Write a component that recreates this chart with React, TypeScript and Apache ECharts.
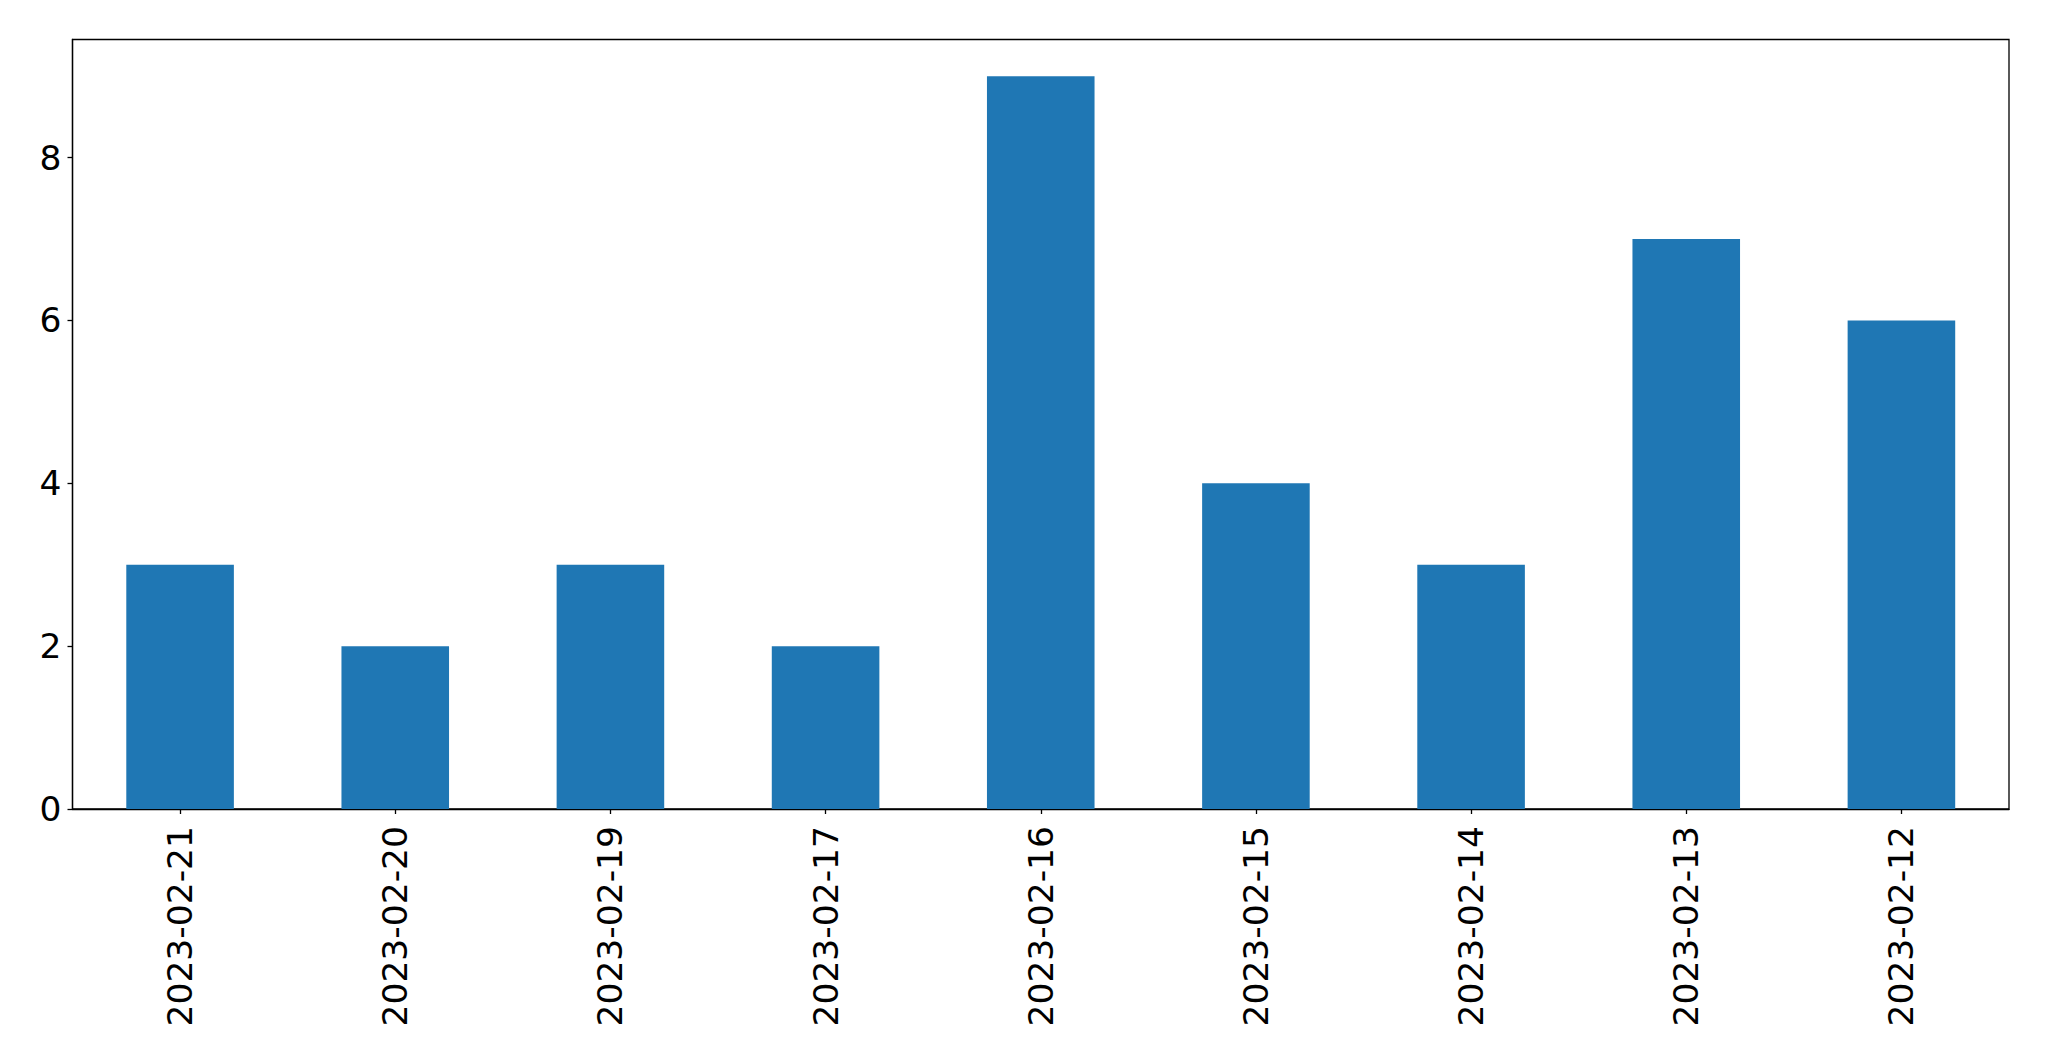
import React, { useEffect, useRef } from "react";
import * as echarts from "echarts";

const categories = [
  "2023-02-21",
  "2023-02-20",
  "2023-02-19",
  "2023-02-17",
  "2023-02-16",
  "2023-02-15",
  "2023-02-14",
  "2023-02-13",
  "2023-02-12",
];
const counts = [3, 2, 3, 2, 9, 4, 3, 7, 6];
const yTicks = [0, 2, 4, 6, 8];

export default function App() {
  const ref = useRef<HTMLDivElement>(null);
  useEffect(() => {
    if (!ref.current) return;
    const chart = echarts.init(ref.current, null, { renderer: "svg" });
    const font = "DejaVu Sans";
    chart.setOption({
      animation: false,
      backgroundColor: "#ffffff",
      grid: {
        left: 72.5,
        top: 39.5,
        right: 40,
        bottom: 252,
        show: true,
        borderColor: "#000000",
        borderWidth: 1.3,
        backgroundColor: "transparent",
      },
      xAxis: {
        type: "category",
        data: categories,
        boundaryGap: true,
        axisLine: { show: true, lineStyle: { color: "#000", width: 1.3 } },
        axisTick: {
          show: true,
          alignWithLabel: true,
          length: 5,
          lineStyle: { color: "#000", width: 1.3 },
        },
        axisLabel: {
          rotate: 90,
          margin: 17,
          fontSize: 34.5,
          fontFamily: font,
          color: "#000",
          interval: 0,
        },
        splitLine: { show: false },
      },
      yAxis: {
        type: "value",
        min: 0,
        max: 9.45,
        interval: 2,
        axisLine: { show: true, lineStyle: { color: "#000", width: 1.3 } },
        axisTick: {
          show: true,
          length: 5,
          customValues: yTicks,
          lineStyle: { color: "#000", width: 1.3 },
        },
        axisLabel: {
          margin: 11,
          fontSize: 34.5,
          fontFamily: font,
          color: "#000",
          customValues: yTicks,
        },
        splitLine: { show: false },
      },
      series: [
        {
          type: "bar",
          data: counts,
          barWidth: "50%",
          itemStyle: { color: "#1f77b4" },
        },
      ],
    });
    return () => chart.dispose();
  }, []);
  return (
    <div
      ref={ref}
      style={{ position: "absolute", left: 0, top: 0, width: 2049, height: 1061 }}
    />
  );
}
